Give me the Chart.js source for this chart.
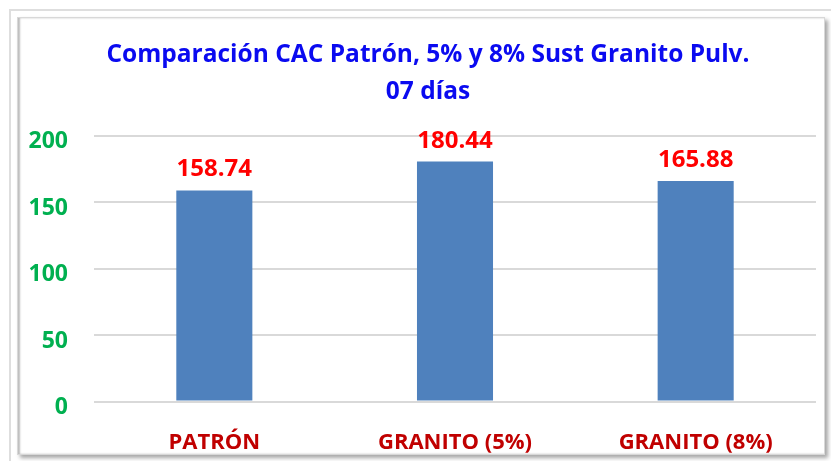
<!DOCTYPE html>
<html>
<head>
<meta charset="utf-8">
<script src="https://cdn.jsdelivr.net/npm/chart.js@4.4.1/dist/chart.umd.min.js"></script>
<style>
  html, body { margin: 0; padding: 0; width: 831px; height: 461px; overflow: hidden; background: #fff; }
  #outer { position: absolute; left: 9px; top: 9px; width: 830px; height: 460px; border-left: 2px solid #dedede; border-top: 2px solid #dedede; }
  #inner { position: absolute; left: 17px; top: 17px; width: 806px; height: 436px; border: 1px solid #d8d8d8;
           box-shadow: inset 2px 0 2px #bdbdbd, 3px 3px 4px rgba(0,0,0,0.35); background: #fff; }
  #wrap { position: absolute; left: 0; top: 0; width: 828px; height: 461px; }
</style>
</head>
<body>
<div id="outer"></div>
<div id="inner"></div>
<div id="wrap"><canvas id="c"></canvas></div>
<script>
const categories = ["PATRÓN", "GRANITO (5%)", "GRANITO (8%)"];
const values = [158.74, 180.44, 165.88];
const titleLines = ["Comparación CAC Patrón, 5% y 8% Sust Granito Pulv.", "07 días"];

const FONT = "'Open Sans', Lato, sans-serif";

const valueLabels = {
  id: 'valueLabels',
  afterDatasetsDraw(chart) {
    const ctx = chart.ctx;
    const meta = chart.getDatasetMeta(0);
    ctx.save();
    ctx.font = "bold 24px " + FONT;
    ctx.fillStyle = "#FF0000";
    ctx.textAlign = "center";
    ctx.textBaseline = "alphabetic";
    meta.data.forEach((bar, i) => {
      ctx.fillText(values[i].toFixed(2), bar.x, bar.y - 14);
    });
    ctx.restore();
  }
};

new Chart(document.getElementById('c'), {
  type: 'bar',
  data: {
    labels: categories,
    datasets: [{
      data: values,
      backgroundColor: '#4F81BD',
      categoryPercentage: 1,
      barPercentage: 0.316,
      yAxisID: 'y'
    }]
  },
  options: {
    responsive: true,
    maintainAspectRatio: false,
    animation: false,
    layout: { padding: { left: 28, right: 0, top: 0, bottom: 0 } },
    plugins: {
      legend: { display: false },
      tooltip: { enabled: false },
      title: {
        display: true,
        text: titleLines,
        color: '#0A0AF0',
        font: { family: FONT, size: 24.5, weight: 'bold', lineHeight: 1.52 },
        padding: { top: 36.5, bottom: 24.6 }
      }
    },
    scales: {
      x: {
        grid: { display: false, drawTicks: false },
        border: { display: false },
        ticks: { color: '#C00000', font: { family: FONT, size: 22, weight: 'bold' }, padding: 28, maxRotation: 0 },
        afterFit(s) { s.height = 59.5; }
      },
      y: {
        min: 0, max: 200,
        grid: { color: '#d9d9d9', lineWidth: 2, drawTicks: false },
        border: { display: false },
        ticks: { stepSize: 50, color: '#00B050', font: { family: FONT, size: 23, weight: 'bold' }, padding: 26, labelOffset: 6 },
        afterFit(s) { s.width = 66; }
      },
      y2: {
        position: 'right',
        display: true,
        grid: { display: false, drawTicks: false },
        border: { display: false },
        ticks: { display: false },
        afterFit(s) { s.width = 12; }
      }
    }
  },
  plugins: [valueLabels]
});
</script>
</body>
</html>
